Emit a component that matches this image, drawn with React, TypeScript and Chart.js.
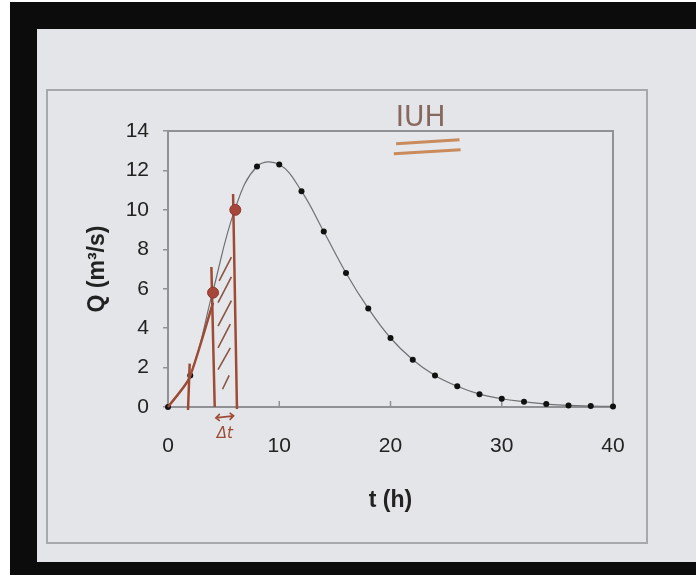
import React, { useEffect, useRef } from "react";
import { Chart, registerables } from "chart.js";

Chart.register(...registerables);

// ---- data ----
const hours = [0, 2, 4, 6, 8, 10, 12, 14, 16, 18, 20, 22, 24, 26, 28, 30, 32, 34, 36, 38, 40];
const discharge = [0, 1.6, 5.8, 10.0, 12.2, 12.3, 10.95, 8.9, 6.8, 5.0, 3.5, 2.4, 1.6, 1.05, 0.65, 0.42, 0.27, 0.15, 0.08, 0.05, 0.03];

const yMin = 0;
const yMax = 14;
const yStep = 2;
const xMin = 0;
const xMax = 40;
const xStep = 10;

const xTitle = "t (h)";
const yTitle = "Q (m³/s)";

// hand-drawn annotations (data coordinates)
const sketchLineT = [0, 1.9, 4.05];
const sketchLineQ = [0, 1.45, 5.3];
const markT = [1.8, 1.95, NaN, 4.2, 3.9, NaN, 6.2, 5.85];
const markQ = [-0.15, 2.2, NaN, 0, 7.1, NaN, -0.1, 10.8];
const hatchT = [4.9, 5.5, NaN, 4.5, 5.6, NaN, 4.5, 5.6, NaN, 4.5, 5.7, NaN, 4.5, 5.7, NaN, 4.6, 5.7];
const hatchQ = [0.9, 1.6, NaN, 1.9, 3.0, NaN, 3.0, 4.2, NaN, 4.1, 5.4, NaN, 5.3, 6.6, NaN, 6.4, 7.6];
const circleT = [4.05, 6.05];
const circleQ = [5.8, 10.0];
const underlineT = [20.5, 26.2, NaN, 20.3, 26.3];
const underlineQ = [13.35, 13.55, NaN, 12.85, 13.05];
const noteText = "IUH";
const noteT = 22.7;
const noteQ = 14.6;
const deltaText = "Δt";
const deltaT = 5.1;
const deltaQ = -1.35;
const arrowT = [4.3, 5.9];
const arrowQ = -0.5;

const toPoints = (xs: number[], ys: number[]) =>
  xs.map((x, i) => (Number.isNaN(x) ? { x: 0, y: null } : { x, y: ys[i] }));

const BROWN = "#9e4b36";

const frame = {
  id: "frame",
  beforeDraw(chart: any) {
    const { ctx, width, height, chartArea } = chart;
    ctx.save();
    ctx.fillStyle = "#ffffff";
    ctx.fillRect(0, 0, width, height);
    ctx.fillStyle = "#0c0c0c";
    ctx.fillRect(10, 2, width - 10, height - 2);
    ctx.fillStyle = "#e3e5e8";
    ctx.fillRect(37, 29, width - 37, 533);
    ctx.strokeStyle = "#a6a8ab";
    ctx.lineWidth = 2;
    ctx.strokeRect(47, 90, 600, 453);
    ctx.fillStyle = "#e5e7ea";
    ctx.fillRect(chartArea.left, chartArea.top, chartArea.right - chartArea.left, chartArea.bottom - chartArea.top);
    ctx.restore();
  },
  beforeDatasetsDraw(chart: any) {
    const { ctx, chartArea, scales } = chart;
    ctx.save();
    ctx.strokeStyle = "#8f9194";
    ctx.lineWidth = 2;
    ctx.beginPath();
    ctx.moveTo(chartArea.left, chartArea.top);
    ctx.lineTo(chartArea.right, chartArea.top);
    ctx.lineTo(chartArea.right, chartArea.bottom);
    ctx.stroke();
    // inward x ticks
    ctx.lineWidth = 1.5;
    for (let v = xMin; v <= xMax; v += xStep) {
      const px = scales.x.getPixelForValue(v);
      ctx.beginPath();
      ctx.moveTo(px, chartArea.bottom);
      ctx.lineTo(px, chartArea.bottom - 6);
      ctx.stroke();
    }
    ctx.restore();
  },
  afterDraw(chart: any) {
    const { ctx, scales } = chart;
    ctx.save();
    // IUH note
    ctx.fillStyle = "#86685f";
    ctx.font = "28px 'DejaVu Sans'";
    ctx.textAlign = "center";
    ctx.textBaseline = "middle";
    ctx.fillText(noteText, scales.x.getPixelForValue(noteT), scales.y.getPixelForValue(noteQ));
    // delta t
    ctx.fillStyle = BROWN;
    ctx.font = "italic 15px 'DejaVu Sans'";
    ctx.fillText(deltaText, scales.x.getPixelForValue(deltaT), scales.y.getPixelForValue(deltaQ));
    const a0 = scales.x.getPixelForValue(arrowT[0]);
    const a1 = scales.x.getPixelForValue(arrowT[1]);
    const ay = scales.y.getPixelForValue(arrowQ);
    ctx.strokeStyle = BROWN;
    ctx.lineWidth = 1.6;
    ctx.beginPath();
    ctx.moveTo(a0, ay + 1);
    ctx.lineTo(a1, ay - 1);
    ctx.moveTo(a0 + 4, ay - 3);
    ctx.lineTo(a0, ay + 1);
    ctx.lineTo(a0 + 4, ay + 4);
    ctx.moveTo(a1 - 4, ay - 4);
    ctx.lineTo(a1, ay - 1);
    ctx.lineTo(a1 - 4, ay + 3);
    ctx.stroke();
    ctx.restore();
  },
};

export default function App() {
  const ref = useRef<HTMLCanvasElement | null>(null);

  useEffect(() => {
    document.body.style.margin = "0";
    if (!ref.current) return;
    const chart = new Chart(ref.current, {
      type: "line",
      data: {
        datasets: [
          {
            data: toPoints(circleT, circleQ),
            showLine: false,
            pointRadius: 5.5,
            pointBackgroundColor: "#a6473a",
            pointBorderColor: "#8a3a2e",
            pointBorderWidth: 1,
            clip: false as any,
          },
          {
            data: toPoints(sketchLineT, sketchLineQ),
            borderColor: BROWN,
            borderWidth: 2.5,
            pointRadius: 0,
            tension: 0.2,
            clip: false as any,
          },
          {
            data: toPoints(markT, markQ),
            borderColor: BROWN,
            borderWidth: 2.5,
            pointRadius: 0,
            tension: 0,
            spanGaps: false,
            clip: false as any,
          },
          {
            data: toPoints(hatchT, hatchQ),
            borderColor: "#8a5545",
            borderWidth: 1.6,
            pointRadius: 0,
            tension: 0,
            spanGaps: false,
            clip: false as any,
          },
          {
            data: toPoints(underlineT, underlineQ),
            borderColor: "#c98a5c",
            borderWidth: 3,
            pointRadius: 0,
            tension: 0,
            spanGaps: false,
            clip: false as any,
          },
          {
            data: hours.map((t, i) => ({ x: t, y: discharge[i] })),
            borderColor: "#6f7174",
            borderWidth: 1.2,
            tension: 0.4,
            pointRadius: 3,
            pointBackgroundColor: "#111111",
            pointBorderColor: "#111111",
            pointBorderWidth: 0,
            clip: false as any,
          },
        ],
      },
      options: {
        responsive: false,
        animation: false,
        events: [],
        layout: { padding: { left: 78, right: 83, top: 131, bottom: 35 } },
        plugins: { legend: { display: false }, tooltip: { enabled: false } },
        scales: {
          x: {
            type: "linear",
            min: xMin,
            max: xMax,
            afterFit: (s: any) => {
              s.height = 133;
            },
            ticks: {
              stepSize: xStep,
              padding: 27,
              color: "#222222",
              font: { family: "'Liberation Sans', Arial", size: 21 },
            },
            grid: { drawOnChartArea: false, drawTicks: false },
            border: { color: "#8f9194", width: 2 },
            title: {
              display: true,
              text: xTitle,
              color: "#222222",
              font: { family: "'Liberation Sans', Arial", size: 23, weight: "bold" },
              padding: { top: 0, bottom: 26 },
            },
          },
          y: {
            min: yMin,
            max: yMax,
            afterFit: (s: any) => {
              s.width = 90;
            },
            ticks: {
              stepSize: yStep,
              padding: 14,
              color: "#222222",
              font: { family: "'Liberation Sans', Arial", size: 21 },
            },
            grid: { drawOnChartArea: false, drawTicks: true, tickLength: 5, color: "#8f9194", lineWidth: 1.5 },
            border: { color: "#8f9194", width: 2 },
            title: {
              display: true,
              text: yTitle,
              color: "#222222",
              font: { family: "'Liberation Sans', Arial", size: 23, weight: "bold" },
              padding: { top: 6, bottom: 0 },
            },
          },
        },
      },
      plugins: [frame],
    });
    return () => chart.destroy();
  }, []);

  return <canvas ref={ref} width={696} height={575} style={{ display: "block" }} />;
}
